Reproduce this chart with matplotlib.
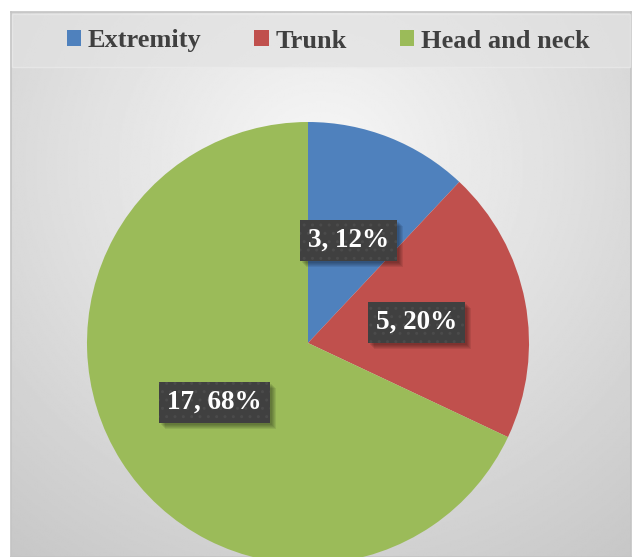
import numpy as np
import matplotlib.pyplot as plt
from matplotlib.patches import Patch, Rectangle

categories = ['Extremity', 'Trunk', 'Head and neck']
counts = [3, 5, 17]
colors = ['#4f81bd', '#c0504d', '#9bbb59']

W, H = 633, 557
serif = 'Liberation Serif'

fig = plt.figure(figsize=(W / 100, H / 100), dpi=100)
fig.patch.set_facecolor('white')

# chart area: light radial shading, darker towards the edges
bg = fig.add_axes([11 / W, 0, (631 - 11) / W, (H - 12) / H])
yy, xx = np.mgrid[0:1:400j, 0:1:400j]
d = np.sqrt(((xx - 0.5) * 1.1) ** 2 + (yy - 0.28) ** 2)
shade = np.clip(0.97 - 0.21 * d, 0, 1)
bg.imshow(shade, cmap='gray', vmin=0, vmax=1, extent=[0, 1, 0, 1],
          aspect='auto', origin='upper', interpolation='bilinear')
bg.set_xticks([])
bg.set_yticks([])
for s in bg.spines.values():
    s.set_color('#c4c4c4')
    s.set_linewidth(1.2)

# legend strip
fig.patches.append(Rectangle((12 / W, (H - 67) / H), (630 - 12) / W, 53 / H,
                             transform=fig.transFigure, facecolor='#e2e2e2',
                             alpha=0.65, edgecolor='#ececec', linewidth=1.0))

# pie
r_px = 221
cx, cy = 308, 343
ax = fig.add_axes([(cx - r_px) / W, (H - cy - r_px) / H, 2 * r_px / W, 2 * r_px / H])
wedges, _ = ax.pie(counts, colors=colors, startangle=90, counterclock=False,
                   radius=1, wedgeprops=dict(linewidth=0))
ax.set_xlim(-1, 1)
ax.set_ylim(-1, 1)
ax.set_aspect('auto')
ax.axis('off')

total = sum(counts)
labels = []
for w, n in zip(wedges, counts):
    mid = np.deg2rad((w.theta1 + w.theta2) / 2)
    x, y = 0.5 * np.cos(mid), 0.5 * np.sin(mid)
    label = f'{n}, {round(100 * n / total)}%'
    t = ax.text(x, y, label, ha='center', va='center', fontsize=19.5,
                fontweight='bold', family=serif, color='white', zorder=5,
                bbox=dict(boxstyle='square,pad=0.3', fc='#404040', ec='#4b4b4b',
                          lw=0, hatch='..'))
    labels.append(t)

# soft drop shadow under each label box (between wedges and labels)
fig.canvas.draw()
for t in labels:
    bb = t.get_bbox_patch().get_window_extent()
    for off in [2, 3, 4, 5, 6]:
        ax.add_patch(Rectangle(((bb.x0 + off) / W, (bb.y0 - off) / H),
                               bb.width / W, bb.height / H,
                               transform=fig.transFigure, facecolor='black',
                               edgecolor='none', alpha=0.08, zorder=3,
                               clip_on=False))

handles = [Patch(facecolor=c, edgecolor='none', label=l) for c, l in zip(colors, categories)]
fig.legend(handles=handles, loc='center', bbox_to_anchor=(328 / W, 1 - 41 / H),
           ncol=3, frameon=False,
           prop={'family': serif, 'weight': 'bold', 'size': 19},
           labelcolor='#404040', handlelength=0.55, handleheight=0.55,
           handletextpad=0.25, columnspacing=2.0)

fig.savefig('out.png', dpi=100)
